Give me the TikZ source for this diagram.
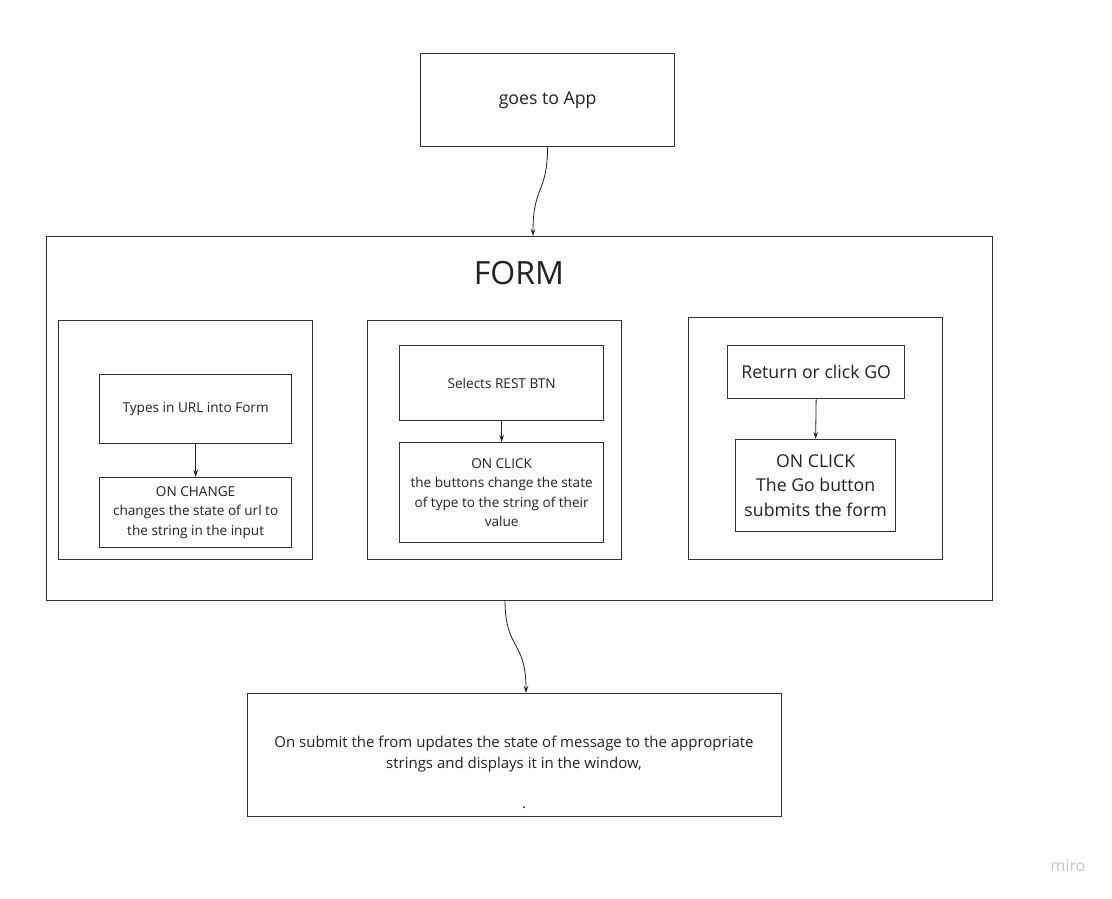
\documentclass[tikz,border=0pt]{standalone}
\usepackage{fontspec}
\setmainfont{Open Sans}
\usetikzlibrary{arrows.meta,positioning,calc}
\definecolor{edge}{HTML}{333333}
\definecolor{ink}{HTML}{222222}
\definecolor{wm}{HTML}{C4C4D0}
\tikzset{
  box/.style={draw=edge, line width=1.3pt, fill=white, inner sep=0pt, anchor=north west, text=ink, align=center},
  conn/.style={draw=ink, line width=0.8pt, -{Stealth[length=7pt,width=4.5pt]}},
  small/.style={font=\fontsize{13.6}{19.5}\selectfont},
  mid/.style={font=\fontsize{17.7}{24.5}\selectfont},
}
\begin{document}
\begin{tikzpicture}[x=1pt,y=-1pt]
\useasboundingbox[fill=white] (0,0) rectangle (1112,898);
% top box
\node[box, minimum width=254pt, minimum height=93pt, mid] (app) at (420,53) {goes to App};
% FORM outer
\node[box, minimum width=946pt, minimum height=364pt] (form) at (46,236) {};
\node[text=ink, font=\fontsize{32}{38}\selectfont] (formtitle) at (519,273) {FORM};
% left panel
\node[box, minimum width=254pt, minimum height=239pt] (pl) at (58,320) {};
\node[box, minimum width=192pt, minimum height=69pt, small] (typ) at (99,374) {Types in URL into Form};
\node[box, minimum width=192pt, minimum height=70pt, small] (chg) at (99,477) {ON CHANGE\\changes the state of url to\\the string in the input};
% middle panel
\node[box, minimum width=254pt, minimum height=239pt] (pm) at (367,320) {};
\node[box, minimum width=204pt, minimum height=75pt, small] (sel) at (399,345) {Selects REST BTN};
\node[box, minimum width=204pt, minimum height=100pt, small] (clk) at (399,442) {ON CLICK\\the buttons change the state\\of type to the string of their\\value};
% right panel
\node[box, minimum width=254pt, minimum height=242pt] (pr) at (688,317) {};
\node[box, minimum width=177pt, minimum height=53pt, mid] (ret) at (727,345) {Return or click GO};
\node[box, minimum width=160pt, minimum height=92pt, mid] (go) at (735,439) {ON CLICK\\The Go button\\submits the form};
% bottom box
\node[box, minimum width=534pt, minimum height=123pt] (bot) at (247,693) {};
\node[text=ink, align=center, font=\fontsize{15}{20.5}\selectfont] (bottxt) at (514,754) {On submit the from updates the state of message to the appropriate\\strings and displays it in the window,};
\node[text=ink, font=\fontsize{15}{20}\selectfont] (botdot) at (524,808) {.};
% watermark
\node[text=wm, font=\fontsize{16}{18}\selectfont] (miro) at (1068,866) {miro};
% connectors
\coordinate (formin) at (533,236);
\coordinate (formout) at (505,600);
\coordinate (botin) at (526,693);
\draw[conn] (app.south) .. controls (547,195) and (533,185) .. (formin);
\draw[conn] (formout) .. controls (505,650) and (526,640) .. (botin);
\draw[conn] (typ.south) -- (chg.north);
\draw[conn] (sel.south) -- (sel.south |- clk.north);
\draw[conn] (ret.south) -- (go.north);
\end{tikzpicture}
\end{document}
